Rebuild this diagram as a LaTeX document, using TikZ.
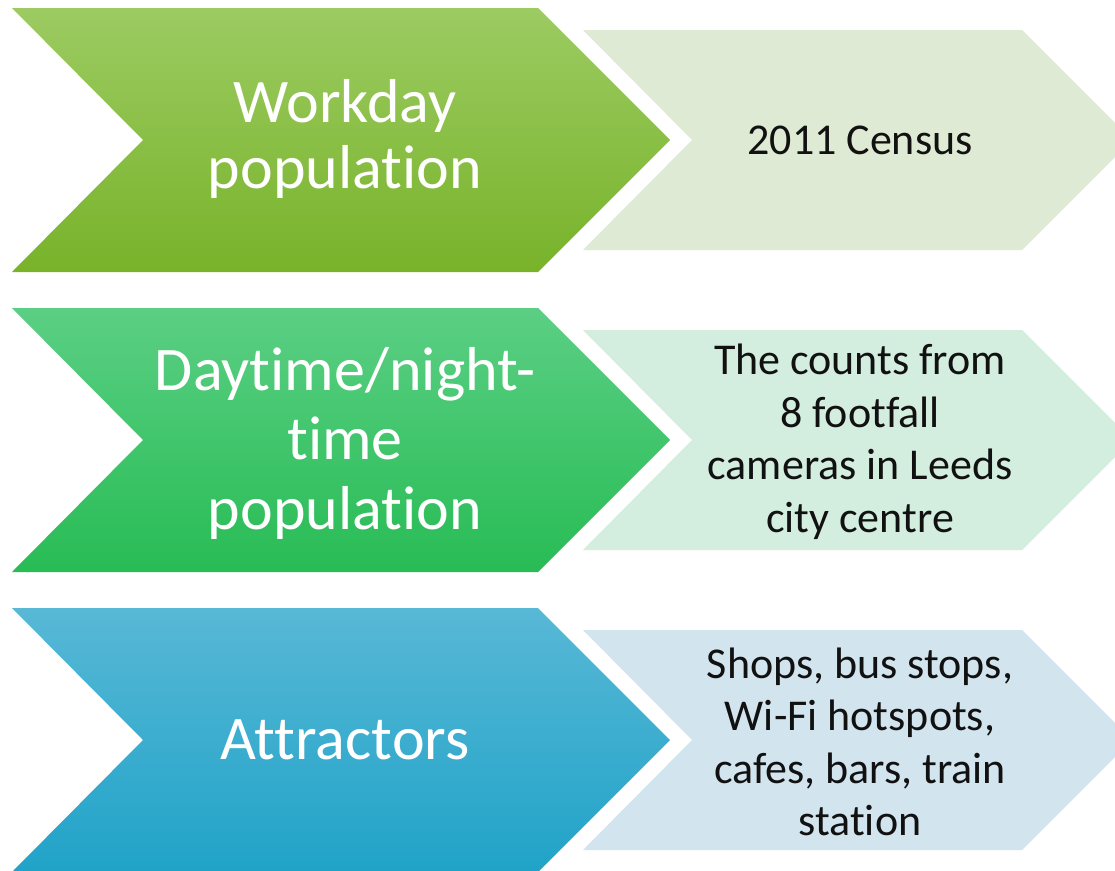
\documentclass[tikz,border=0pt]{standalone}
\usepackage{fontspec}
\setmainfont{Carlito}[Ligatures=NoCommon]
\definecolor{gAtop}{HTML}{9CCB62}
\definecolor{gAmid}{HTML}{8BC43C}
\definecolor{gAbot}{HTML}{78B32A}
\definecolor{gBtop}{HTML}{5BCF84}
\definecolor{gBmid}{HTML}{3CCB6A}
\definecolor{gBbot}{HTML}{28BC55}
\definecolor{bCtop}{HTML}{58B8D6}
\definecolor{bCmid}{HTML}{31B3D8}
\definecolor{bCbot}{HTML}{20A3C8}
\definecolor{lA}{HTML}{DEEAD3}
\definecolor{lB}{HTML}{D3EDDF}
\definecolor{lC}{HTML}{D2E4EE}
\definecolor{txtdark}{HTML}{111111}
\tikzset{
  bigtext/.style={text=white, align=center, inner sep=0pt, font=\fontsize{62}{66}\selectfont},
  smalltext/.style={text=txtdark, align=center, inner sep=0pt, font=\fontsize{44}{52.5}\selectfont},
}
\newcommand{\bigchev}[4]{%
  \shade[top color=#2, middle color=#3, bottom color=#4]
    (12,#1-132) -- (538,#1-132) -- (670,#1) -- (538,#1+132) -- (12,#1+132) -- (143,#1) -- cycle;}
\newcommand{\smallchev}[2]{%
  \fill[#2] (583,#1-110) -- (1022,#1-110) -- (1132,#1) -- (1022,#1+110) -- (583,#1+110) -- (692,#1) -- cycle;}
\begin{document}
\begin{tikzpicture}[x=1pt,y=-1pt]
\useasboundingbox (0,0) rectangle (1115,870);
\clip (0,0) rectangle (1115,870);
\fill[white] (0,0) rectangle (1115,870);
\bigchev{140}{gAtop}{gAmid}{gAbot}
\smallchev{140}{lA}
\bigchev{440}{gBtop}{gBmid}{gBbot}
\smallchev{440}{lB}
\bigchev{740}{bCtop}{bCmid}{bCbot}
\smallchev{740}{lC}
\node[bigtext] (t1) at (345,139) {Workday\\population};
\node[bigtext, font=\fontsize{62}{69.5}\selectfont] (t2) at (345,443) {Daytime/night-\\time\\population};
\node[bigtext] (t3) at (345,740) {Attractors};
\node[smalltext] (s1) at (860,140) {2011 Census};
\node[smalltext] (s2) at (860,442) {The counts from\\8 footfall\\cameras in Leeds\\city centre};
\node[smalltext] (s3) at (860,742) {Shops, bus stops,\\Wi-Fi hotspots,\\cafes, bars, train\\station};
\end{tikzpicture}
\end{document}
